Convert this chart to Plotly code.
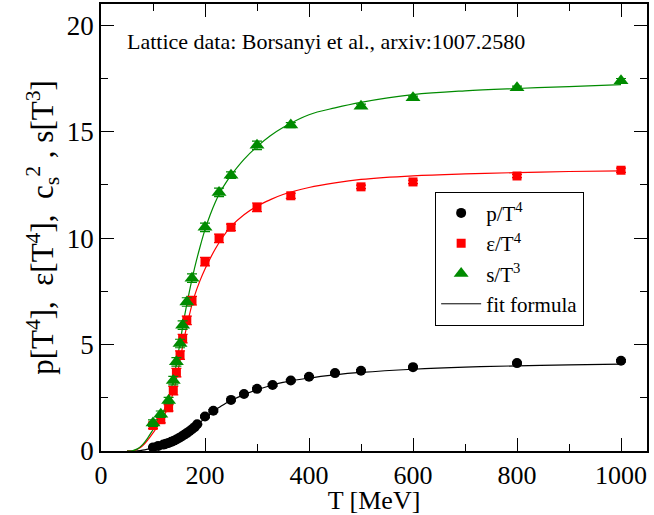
import plotly.graph_objects as go

# ---- lattice data ----
T_es = [100, 115, 130, 139, 145, 152, 157, 165, 175, 200, 227, 250, 300, 365, 500, 600, 800, 1000]
s_T3 = [1.31, 1.73, 2.37, 3.31, 4.19, 5.05, 5.91, 7.00, 8.12, 10.51, 12.15, 12.96, 14.36, 15.31, 16.20, 16.59, 17.06, 17.40]
s_err = [0.15, 0.15, 0.15, 0.2, 0.2, 0.2, 0.2, 0.2, 0.2, 0.2, 0.2, 0.15, 0.2, 0.12, 0.1, 0.08, 0.08, 0.1]
e_T4 = [1.20, 1.47, 2.03, 2.84, 3.68, 4.50, 5.28, 6.14, 7.06, 8.90, 9.99, 10.51, 11.45, 11.99, 12.41, 12.64, 12.92, 13.19]
e_err = [0.15, 0.15, 0.15, 0.2, 0.2, 0.2, 0.2, 0.2, 0.2, 0.2, 0.2, 0.15, 0.2, 0.12, 0.08, 0.08, 0.08, 0.1]

T_p = [100, 110, 120, 125, 130, 135, 140, 145, 150, 155, 160, 165, 170, 175, 180, 185,
       200, 216, 250, 275, 300, 330, 365, 400, 450, 500, 600, 800, 1000]
p_T4 = [0.17, 0.24, 0.30, 0.34, 0.38, 0.43, 0.48, 0.54, 0.61, 0.68, 0.76, 0.84, 0.93, 1.02, 1.12, 1.26,
        1.62, 1.89, 2.40, 2.68, 2.92, 3.10, 3.31, 3.49, 3.66, 3.77, 3.94, 4.13, 4.24]
p_err = [0.03] * 16 + [0.05] * 13

# ---- fit formula curves ----
T_fit = [50, 60, 70, 80, 90, 100, 110, 120, 130, 140, 150, 160, 170, 180, 190, 200, 210, 220, 230, 240,
         250, 275, 300, 325, 350, 400, 450, 500, 600, 700, 800, 900, 1000]
s_fit = [0, 0.01, 0.1, 0.3, 0.62, 1.0, 1.4, 1.85, 2.45, 3.45, 4.8, 6.25, 7.5, 8.6, 9.55, 10.4, 11.1, 11.7, 12.2, 12.6,
         12.95, 13.7, 14.3, 14.8, 15.2, 15.8, 16.12, 16.38, 16.74, 16.92, 17.03, 17.12, 17.21]
e_fit = [0, 0.0, 0.08, 0.25, 0.52, 0.85, 1.2, 1.6, 2.1, 2.85, 4.0, 5.3, 6.4, 7.3, 7.98, 8.55, 9.05, 9.5, 9.9, 10.25,
         10.55, 11.1, 11.5, 11.8, 12.05, 12.38, 12.6, 12.76, 12.93, 13.02, 13.08, 13.13, 13.16]
p_fit = [0, 0.0, 0.01, 0.04, 0.09, 0.15, 0.21, 0.28, 0.37, 0.47, 0.6, 0.76, 0.94, 1.13, 1.33, 1.55, 1.75, 1.93, 2.09, 2.24,
         2.37, 2.65, 2.88, 3.06, 3.22, 3.43, 3.58, 3.69, 3.84, 3.94, 4.0, 4.05, 4.08]

x_ticks = [0, 200, 400, 600, 800, 1000]
y_ticks = [0, 5, 10, 15, 20]
x_title = "T [MeV]"
y_title = "p[T<sup>4</sup>],  ε[T<sup>4</sup>],  c<sub>s</sub><sup>2</sup> , s[T<sup>3</sup>]"

BLACK = "black"
RED = "#ff0000"
GREEN = "#008b00"
FONT = "Liberation Serif"

fig = go.Figure()

for yv, col in [(p_fit, BLACK), (e_fit, RED), (s_fit, GREEN)]:
    fig.add_trace(go.Scatter(x=T_fit, y=yv, mode="lines", line=dict(color=col, width=1.2, shape="spline", smoothing=1.0),
                             showlegend=False, hoverinfo="skip"))

fig.add_trace(go.Scatter(x=T_p, y=p_T4, mode="markers", name="p/T<sup>4</sup>",
                         marker=dict(symbol="circle", size=10, color=BLACK),
                         error_y=dict(type="data", array=p_err, color=BLACK, thickness=1.2, width=5)))
fig.add_trace(go.Scatter(x=T_es, y=e_T4, mode="markers", name="ε/T<sup>4</sup>",
                         marker=dict(symbol="square", size=9, color=RED),
                         error_y=dict(type="data", array=e_err, color=RED, thickness=1.2, width=5)))
fig.add_trace(go.Scatter(x=T_es, y=s_T3, mode="markers", name="s/T<sup>3</sup>",
                         marker=dict(symbol="triangle-up", size=13, color=GREEN),
                         error_y=dict(type="data", array=s_err, color=GREEN, thickness=1.2, width=5)))
fig.add_trace(go.Scatter(x=[None], y=[None], mode="lines", name="fit formula",
                         line=dict(color=BLACK, width=1)))

axis_common = dict(showline=True, linecolor="black", linewidth=1.5, mirror="ticks",
                   ticks="inside", ticklen=13, tickwidth=1, tickcolor="black",
                   showgrid=False, zeroline=False)

fig.update_xaxes(range=[0, 1050], tickvals=x_ticks, ticktext=[str(v) for v in x_ticks],
                 minor=dict(ticks="inside", ticklen=7, tickwidth=1, tickcolor="black", dtick=100, tick0=0),
                 ticklabelstandoff=0,
                 tickfont=dict(family=FONT, size=26, color="black"),
                 title=dict(text=x_title, font=dict(family=FONT, size=26, color="black"), standoff=0),
                 **axis_common)
fig.update_yaxes(range=[0, 21], tickvals=y_ticks, ticktext=[str(v) for v in y_ticks],
                 minor=dict(ticks="inside", ticklen=7, tickwidth=1, tickcolor="black", dtick=2.5, tick0=0),
                 tickfont=dict(family=FONT, size=27, color="black"),
                 title=dict(text=y_title, font=dict(family=FONT, size=31, color="black"), standoff=4),
                 **axis_common)

fig.add_annotation(x=0.044, y=0.915, xref="paper", yref="paper", xanchor="left", yanchor="middle",
                   text="Lattice data: Borsanyi et al., arxiv:1007.2580", showarrow=False,
                   font=dict(family=FONT, size=22, color="black"))

fig.update_layout(
    width=654, height=515,
    margin=dict(l=101, r=7, t=4, b=64, autoexpand=False),
    paper_bgcolor="white", plot_bgcolor="white",
    font=dict(family=FONT, color="black"),
    legend=dict(x=0.612, y=0.58, xanchor="left", yanchor="top",
                bgcolor="white", bordercolor="black", borderwidth=1,
                font=dict(family=FONT, size=21, color="black"), tracegroupgap=0, itemwidth=40),
    showlegend=True,
)

fig.write_html("out.html")
